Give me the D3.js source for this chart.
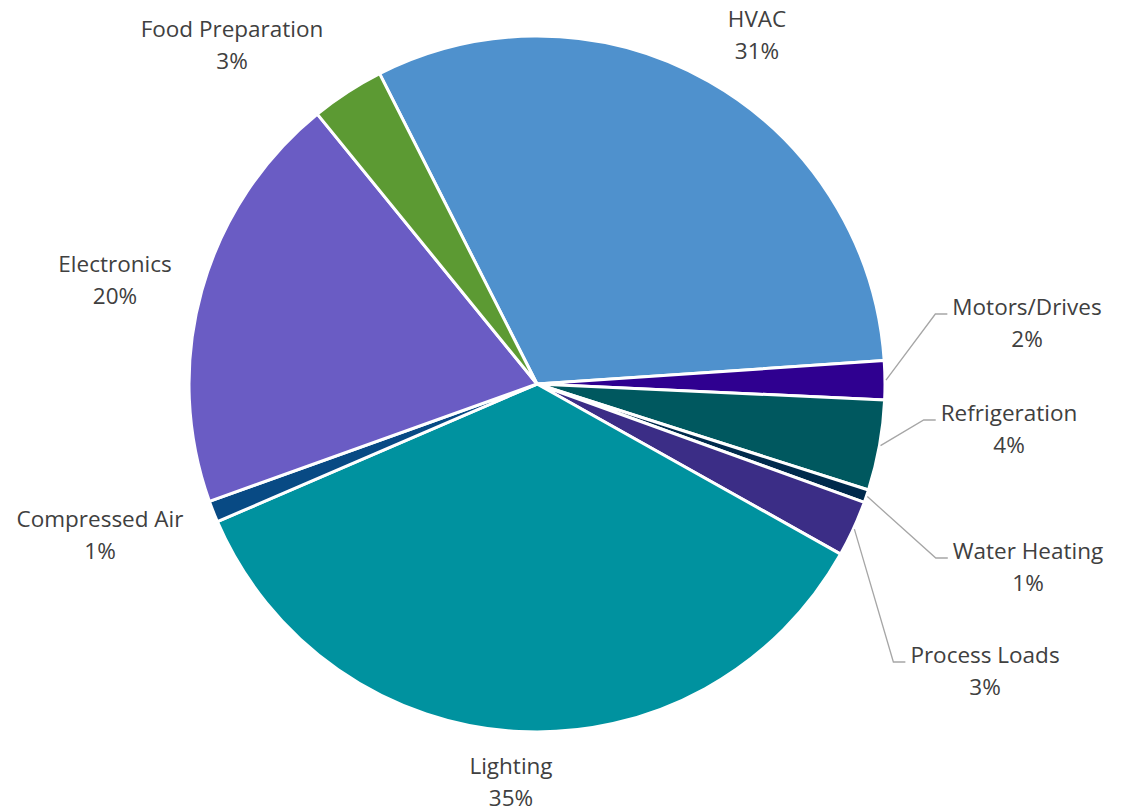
<!DOCTYPE html>
<html>
<head>
<meta charset="utf-8">
<script src="https://cdn.jsdelivr.net/npm/d3@7"></script>
<style>
  html, body { margin: 0; padding: 0; background: #fff; }
  svg { display: block; }
</style>
</head>
<body>
<script>
// data (shares of total, %)
const categories = ["HVAC", "Motors/Drives", "Refrigeration", "Water Heating", "Process Loads",
                    "Lighting", "Compressed Air", "Electronics", "Food Preparation"];
const shares = [31.4, 1.8, 4.2, 0.6, 2.6, 35.4, 1.0, 19.6, 3.4];
const colors = ["#4f91cd", "#2f0090", "#00585f", "#002a4c", "#3b2d86",
                "#00929f", "#084a84", "#6a5cc4", "#5c9a33"];

// label placement: text centre x / first baseline, relative to pie centre
const labelAt = {
  "HVAC":             {dx: 220,  dy: -357},
  "Food Preparation": {dx: -305, dy: -347},
  "Electronics":      {dx: -422, dy: -112},
  "Compressed Air":   {dx: -437, dy: 143},
  "Lighting":         {dx: -26,  dy: 390},
  "Motors/Drives":    {dx: 490,  dy: -69, leader: true},
  "Refrigeration":    {dx: 472,  dy: 37,  leader: true},
  "Water Heating":    {dx: 491,  dy: 175, leader: true},
  "Process Loads":    {dx: 448,  dy: 279, leader: true}
};

const width = 1121, height = 811;
const cx = 537, cy = 384, radius = 348;
const startDeg = -26.9;

const rows = categories.map((c, i) => ({name: c, value: shares[i], color: colors[i]}));
const total = d3.sum(shares);
const pct = d3.format(".0%");

const svg = d3.select("body").append("svg")
    .attr("width", width)
    .attr("height", height)
    .style("font-family", "'Open Sans', sans-serif");

const g = svg.append("g").attr("transform", `translate(${cx},${cy})`);

const start = startDeg * Math.PI / 180;
const pie = d3.pie()
    .sort(null)
    .value(d => d.value)
    .startAngle(start)
    .endAngle(start + 2 * Math.PI);

const arc = d3.arc().innerRadius(0).outerRadius(radius);
const arcs = pie(rows);

g.append("g")
  .selectAll("path")
  .data(arcs)
  .join("path")
    .attr("d", arc)
    .attr("fill", d => d.data.color)
    .attr("stroke", "#fff")
    .attr("stroke-width", 3)
    .attr("stroke-linejoin", "round");

const labels = g.append("g")
    .attr("fill", "#404040")
    .attr("font-size", 22.5)
    .attr("text-anchor", "middle")
  .selectAll("text")
  .data(arcs)
  .join("text")
    .attr("x", d => labelAt[d.data.name].dx)
    .attr("y", d => labelAt[d.data.name].dy);

labels.append("tspan")
    .attr("x", d => labelAt[d.data.name].dx)
    .text(d => d.data.name);
labels.append("tspan")
    .attr("x", d => labelAt[d.data.name].dx)
    .attr("dy", 31.5)
    .text(d => pct(d.data.value / total));

// leader lines for the thin slices on the right
const leaderArcs = arcs.filter(d => labelAt[d.data.name].leader);
labels.filter(d => labelAt[d.data.name].leader).each(function (d) {
  d.textW = this.firstChild.getComputedTextLength();
});

g.append("g")
    .attr("fill", "none")
    .attr("stroke", "#a6a6a6")
    .attr("stroke-width", 1.3)
  .selectAll("polyline")
  .data(leaderArcs)
  .join("polyline")
    .attr("points", d => {
      const a = (d.startAngle + d.endAngle) / 2;
      const x0 = Math.sin(a) * (radius + 1), y0 = -Math.cos(a) * (radius + 1);
      const L = labelAt[d.data.name];
      const left = L.dx - d.textW / 2;
      const y1 = L.dy - 1;
      return [[x0, y0], [left - 17, y1], [left - 5, y1]].map(p => p.join(",")).join(" ");
    });
</script>
</body>
</html>
